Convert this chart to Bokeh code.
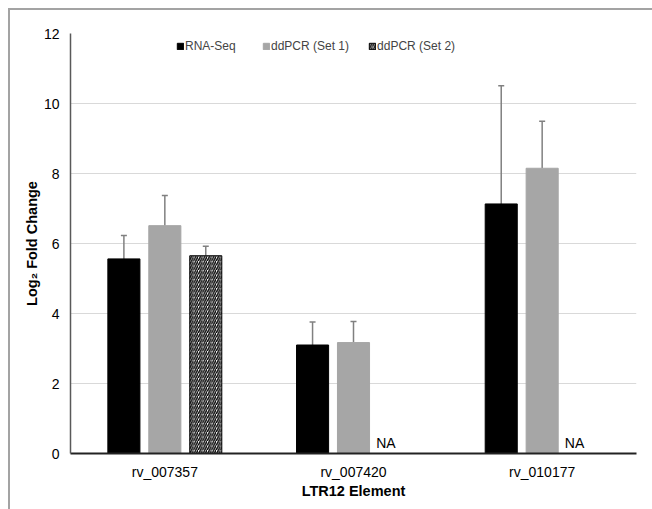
import numpy as np
from bokeh.plotting import figure
from bokeh.models import (ColumnDataSource, FactorRange, Range1d, Whisker, TeeHead,
                          Legend, LegendItem, SingleIntervalTicker)
from bokeh.transform import dodge
from bokeh.embed import file_html
from bokeh.resources import INLINE
from bokeh.core.properties import value

categories = ["rv_007357", "rv_007420", "rv_010177"]
series_names = ["RNA-Seq", "ddPCR (Set 1)", "ddPCR (Set 2)"]
rna_seq = [5.56, 3.10, 7.13]
rna_seq_err = [0.67, 0.66, 3.38]
ddpcr_set1 = [6.51, 3.17, 8.15]
ddpcr_set1_err = [0.86, 0.60, 1.34]
ddpcr_set2 = [5.65, None, None]
ddpcr_set2_err = [0.27, None, None]
na_label = "NA"

FONT = "Liberation Sans"
OFF = 0.217
BW = 0.17

def arr(v):
    return np.array([np.nan if x is None else x for x in v], dtype=float)

src = ColumnDataSource(dict(
    cat=categories,
    rna=arr(rna_seq), rna_hi=arr(rna_seq) + arr(rna_seq_err),
    s1=arr(ddpcr_set1), s1_hi=arr(ddpcr_set1) + arr(ddpcr_set1_err),
    s2=arr(ddpcr_set2), s2_hi=arr(ddpcr_set2) + arr(ddpcr_set2_err),
))

na_cats = [c for c, v in zip(categories, ddpcr_set2) if v is None]
na_src = ColumnDataSource(dict(cat=na_cats, y=[0] * len(na_cats), t=[na_label] * len(na_cats)))

p = figure(x_range=FactorRange(*categories, range_padding=0), y_range=Range1d(0, 12),
           width=652, height=509, output_backend="svg", toolbar_location=None,
           min_border_left=70, min_border_right=16, min_border_top=33, min_border_bottom=56)
p.styles = {"box-shadow": "inset 8px 8px 0 0 white, inset 10px 10px 0 0 #a3a3a3"}
p.border_fill_alpha = 0
p.outline_line_color = None
p.background_fill_color = "white"

r1 = p.vbar(x=dodge("cat", -OFF, range=p.x_range), top="rna", width=BW, source=src,
            fill_color="black", line_color="black")
r2 = p.vbar(x=dodge("cat", 0.0, range=p.x_range), top="s1", width=BW, source=src,
            fill_color="#a6a6a6", line_color="#a6a6a6")
r3 = p.vbar(x=dodge("cat", OFF, range=p.x_range), top="s2", width=BW, source=src,
            fill_color="white", line_color="black", line_width=1,
            hatch_pattern="/", hatch_color="black", hatch_scale=4.5, hatch_weight=1.4)

for off, lo, hi in [(-OFF, "rna", "rna_hi"), (0.0, "s1", "s1_hi"), (OFF, "s2", "s2_hi")]:
    w = Whisker(base=dodge("cat", off, range=p.x_range), lower=lo, upper=hi, source=src,
                line_color="#808080", line_width=1.5, lower_head=None,
                upper_head=TeeHead(size=6, line_color="#808080", line_width=1.5))
    p.add_layout(w)

p.text(x=dodge("cat", OFF - 0.097, range=p.x_range), y="y", text="t", source=na_src,
       text_font=value(FONT), text_font_size="14px", text_color="black",
       text_baseline="bottom", text_align="left", y_offset=-3)

p.yaxis.ticker = SingleIntervalTicker(interval=2)
p.ygrid.grid_line_color = "#d9d9d9"
p.ygrid.grid_line_width = 1
p.xgrid.grid_line_color = None

for ax in (p.xaxis, p.yaxis):
    ax.major_tick_line_color = None
    ax.minor_tick_line_color = None
    ax.major_tick_out = 0
    ax.major_tick_in = 0
    ax.minor_tick_out = 0
    ax.minor_tick_in = 0
    ax.major_label_text_font = FONT
    ax.major_label_text_font_size = "14px"
    ax.major_label_text_color = "black"
    ax.axis_label_text_font = FONT
    ax.axis_label_text_font_size = "14.5px"
    ax.axis_label_text_font_style = "bold"
    ax.axis_label_text_color = "black"

p.yaxis.axis_line_color = "#595959"
p.yaxis.axis_line_width = 1.5
p.xaxis.axis_line_color = "#222222"
p.xaxis.axis_line_width = 2
p.yaxis.axis_label = "Log\u2082 Fold Change"
p.xaxis.axis_label = "LTR12 Element"
p.yaxis.major_label_standoff = 11
p.yaxis.axis_label_standoff = 1
p.xaxis.major_label_standoff = 10
p.xaxis.axis_label_standoff = 0

legend = Legend(items=[LegendItem(label=series_names[0], renderers=[r1]),
                       LegendItem(label=series_names[1], renderers=[r2]),
                       LegendItem(label=series_names[2], renderers=[r3])],
                orientation="horizontal", location=(106, 400),
                label_text_font=FONT, label_text_font_size="12px",
                glyph_width=8, glyph_height=8, spacing=19, label_standoff=1,
                label_width=58,
                border_line_color=None, background_fill_alpha=0, padding=2)
p.add_layout(legend)

open("out.html", "w").write(file_html(p, INLINE))
